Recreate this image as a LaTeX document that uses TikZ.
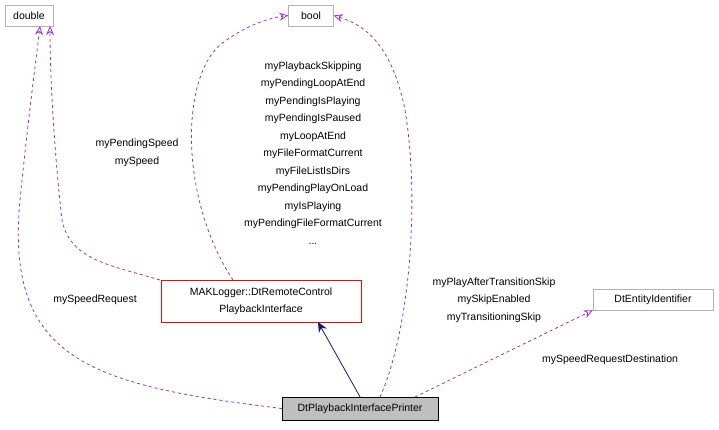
\documentclass[tikz,border=0pt]{standalone}
\usepackage{fontspec}
\setmainfont{Liberation Sans}
\usetikzlibrary{arrows.meta}
\definecolor{edgepurple}{HTML}{9A32CD}
\definecolor{edgenavy}{HTML}{191970}
\tikzset{
  cls/.style={draw=gray!60, rectangle, minimum height=21pt, inner sep=3pt, font=\fontsize{10.5}{12}\selectfont},
  use/.style={draw=edgepurple, line width=0.8pt, dashed, -{Stealth[open,length=9pt,width=8pt]}},
  lbl/.style={align=center, font=\fontsize{10.5}{17.5}\selectfont}
}
\begin{document}
\begin{tikzpicture}[x=1pt,y=-1pt]
\useasboundingbox (0,0) rectangle (719,429);
\node[cls, minimum width=48pt] (double) at (29,15.5) {double};
\node[cls, minimum width=45pt] (bool) at (311,15.5) {bool};
\node[cls, draw=red, minimum width=200pt, minimum height=42pt, align=center, font=\fontsize{10.5}{17}\selectfont] (iface) at (261,301) {MAKLogger::DtRemoteControl\\PlaybackInterface};
\node[cls, minimum width=120pt] (ent) at (653,299.5) {DtEntityIdentifier};
\node[cls, draw=black, fill=gray!50, minimum width=156pt, minimum height=23pt] (printer) at (360,408.5) {DtPlaybackInterfacePrinter};
% inheritance
\draw[edgenavy, line width=0.8pt, -{Stealth[length=10pt,width=9pt]}] (printer.north) -- (318,322);
% usage
\draw[use] (printer.west) .. controls (90,385) and (5,360) .. (20,200) .. controls (28,120) and (36,60) .. (40,26);
\node[lbl] (l1) at (95,300) {mySpeedRequest};
\draw[use] (160,280) .. controls (110,265) and (70,260) .. (62,220) .. controls (55,160) and (50,80) .. (50,26);
\node[lbl] (l2) at (137,153) {myPendingSpeed\\mySpeed};
\draw[use] (233,280) .. controls (180,200) and (180,80) .. (220,45) .. controls (245,25) and (270,18) .. (bool.west);
\node[lbl] (l3) at (313,153) {myPlaybackSkipping\\myPendingLoopAtEnd\\myPendingIsPlaying\\myPendingIsPaused\\myLoopAtEnd\\myFileFormatCurrent\\myFileListIsDirs\\myPendingPlayOnLoad\\myIsPlaying\\myPendingFileFormatCurrent\\...};
\draw[use] (380,397) .. controls (410,330) and (420,200) .. (405,110) .. controls (392,45) and (365,25) .. (bool.east);
\node[lbl] (l4) at (494,300) {myPlayAfterTransitionSkip\\mySkipEnabled\\myTransitioningSkip};
\draw[use] (415,397) -- (ent.south west);
\node[lbl] (l5) at (610,360) {mySpeedRequestDestination};
\end{tikzpicture}
\end{document}
